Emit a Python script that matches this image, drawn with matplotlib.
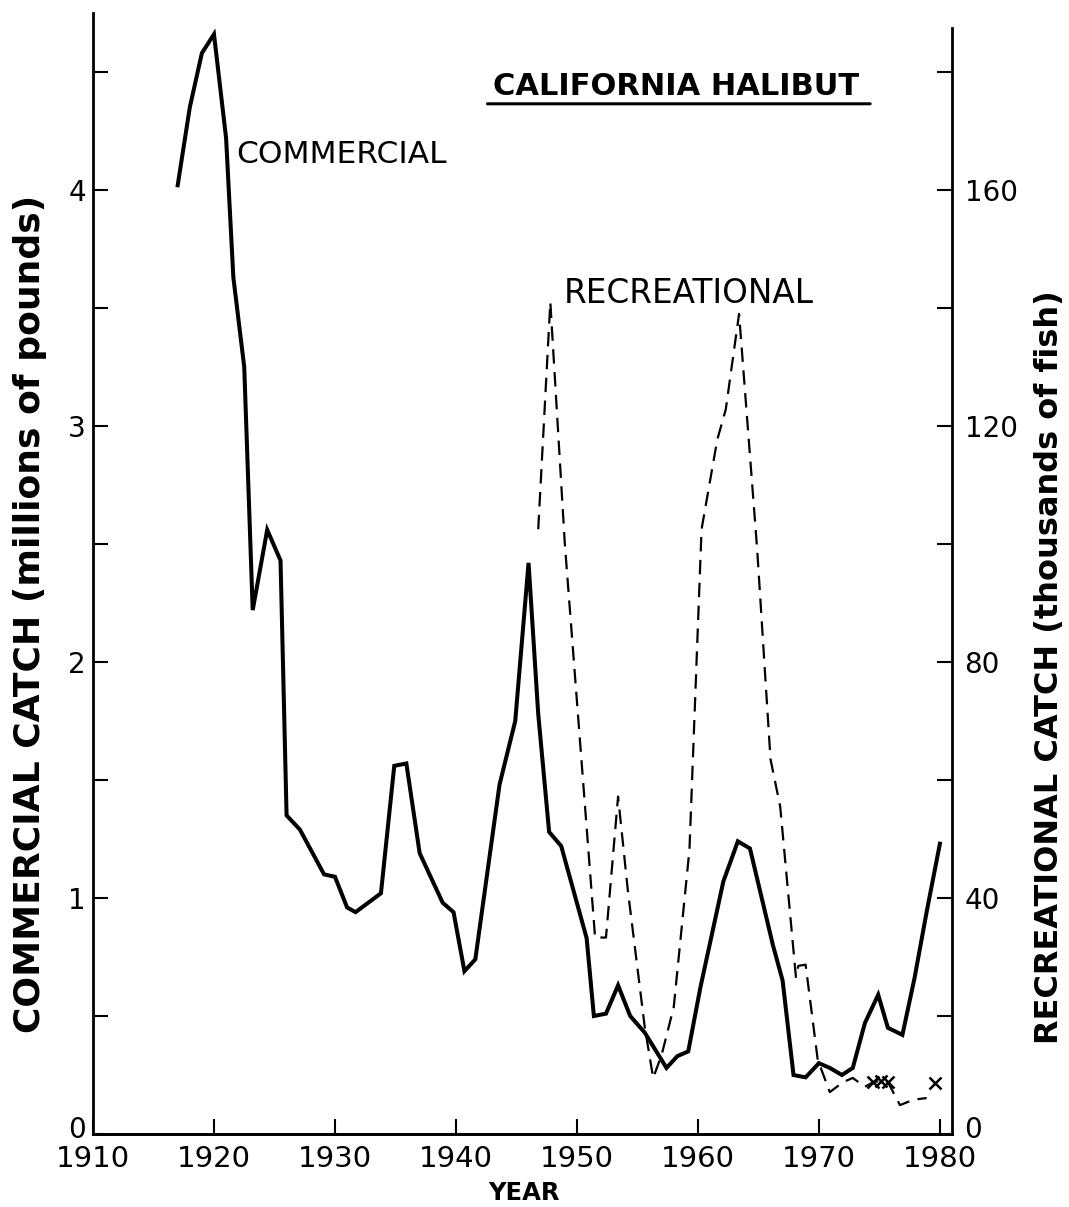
import numpy as np
import matplotlib
matplotlib.use("Agg")
import matplotlib.pyplot as plt
from matplotlib.transforms import ScaledTranslation

# commercial catch (millions of pounds)
com_year = [1917.0, 1918.0, 1919.0, 1920.0, 1921.0, 1921.6, 1922.5, 1923.2, 1924.4, 1925.5,
            1926.0, 1927.1, 1929.1, 1930.0, 1931.0, 1931.7, 1933.8, 1934.9, 1935.9, 1937.0,
            1938.9, 1939.8, 1940.7, 1941.6, 1943.6, 1944.9, 1946.0, 1946.8, 1947.7, 1948.7,
            1950.8, 1951.4, 1952.4, 1953.4, 1954.4, 1955.6, 1957.4, 1958.3, 1959.2, 1960.2,
            1962.1, 1963.3, 1964.3, 1966.2, 1967.0, 1967.9, 1968.9, 1970.0, 1970.9, 1971.9,
            1972.8, 1973.8, 1974.9, 1975.7, 1976.9, 1977.9, 1978.9, 1980.0]
com_val = [4.02, 4.35, 4.58, 4.66, 4.22, 3.63, 3.25, 2.22, 2.56, 2.43,
           1.35, 1.29, 1.10, 1.09, 0.96, 0.94, 1.02, 1.56, 1.57, 1.19,
           0.98, 0.94, 0.69, 0.74, 1.48, 1.75, 2.42, 1.78, 1.28, 1.22,
           0.83, 0.50, 0.51, 0.63, 0.50, 0.43, 0.28, 0.33, 0.35, 0.62,
           1.07, 1.24, 1.21, 0.80, 0.65, 0.25, 0.24, 0.30, 0.28, 0.25,
           0.28, 0.47, 0.59, 0.45, 0.42, 0.66, 0.94, 1.23]

# recreational catch (thousands of fish)
rec_year = [1946.8, 1947.8, 1949.0, 1951.5, 1952.4, 1953.4, 1954.2, 1955.6, 1956.3, 1957.0,
            1958.0, 1959.3, 1960.3, 1961.6, 1962.3, 1963.4, 1964.9, 1966.0, 1966.8, 1968.1,
            1968.3, 1968.9, 1969.9, 1970.9, 1972.0, 1972.8, 1973.8, 1974.5, 1975.1, 1975.7,
            1976.7, 1977.8, 1978.9]
rec_val = [102.5, 141.0, 100.0, 33.3, 33.3, 57.2, 41.4, 18.2, 9.5, 13.4,
           21.5, 48.2, 102.5, 117.7, 122.8, 139.0, 99.0, 63.5, 55.5, 26.6,
           28.5, 28.7, 12.6, 7.1, 8.8, 9.5, 8.0, 8.8, 9.0, 8.8,
           4.9, 5.8, 6.1]

# years marked with x on the recreational series
mark_year = [1974.5, 1975.1, 1975.7, 1979.6]
mark_val = [8.8, 9.0, 8.8, 8.7]

x_ticks = [1910, 1920, 1930, 1940, 1950, 1960, 1970, 1980]
left_ticks = [0, 1, 2, 3, 4]
left_minor = [0.5, 1.5, 2.5, 3.5, 4.5]
right_ticks = [0, 40, 80, 120, 160]
right_minor = [20, 60, 100, 140, 180]

fig = plt.figure(figsize=(10.69, 12.07), dpi=100)
ax = fig.add_axes([93/1069, 73/1207, 859/1069, 1121/1207])
ax2 = ax.twinx()

ax.plot(com_year, com_val, color="black", lw=2.9, solid_joinstyle="miter")
ax2.plot(rec_year, rec_val, color="black", lw=1.6, dashes=(6.5, 3.8))
ax2.plot(mark_year, mark_val, ls="none", marker="x", color="black", ms=8, mew=1.8)

ax.set_xlim(1910, 1981)
ax.set_ylim(0, 4.75)
ax2.set_ylim(0, 190)

for a in (ax, ax2):
    a.spines["top"].set_visible(False)
    for s in a.spines.values():
        s.set_linewidth(2.0)
ax.spines["right"].set_visible(False)
ax2.spines["left"].set_visible(False)
ax2.spines["right"].set_bounds(0, 187.5)

ax.set_xticks(x_ticks)
ax.set_yticks(left_ticks)
ax.set_yticks(left_minor, minor=True)
ax2.set_yticks(right_ticks)
ax2.set_yticks(right_minor, minor=True)

ax.tick_params(axis="x", direction="in", length=11, width=1.5, labelsize=21, pad=8)
ax.tick_params(axis="y", which="both", direction="in", length=11, width=1.5, labelsize=20, pad=5)
ax2.tick_params(axis="y", which="both", direction="in", length=11, width=1.5, labelsize=20, pad=9)

# the two "0" labels sit a little above the axis line
nudge = ScaledTranslation(0, 5/72, fig.dpi_scale_trans)
for a in (ax, ax2):
    t0 = a.yaxis.get_major_ticks()[0]
    for lab in (t0.label1, t0.label2):
        lab.set_transform(lab.get_transform() + nudge)

fig.text(0.028, 0.491, "COMMERCIAL CATCH (millions of pounds)", rotation=90,
         ha="center", va="center", fontsize=26, fontweight="bold")
fig.text(0.982, 0.447, "RECREATIONAL CATCH (thousands of fish)", rotation=90,
         ha="center", va="center", fontsize=23, fontweight="bold")
fig.text(0.490, 0.012, "YEAR", ha="center", va="center", fontsize=17.5, fontweight="bold")

ax.text(0.679, 0.934, "CALIFORNIA HALIBUT", transform=ax.transAxes, ha="center",
        va="center", fontsize=22, fontweight="bold")
ax.annotate("", xy=(0.908, 0.919), xytext=(0.456, 0.919), xycoords="axes fraction",
            arrowprops=dict(arrowstyle="-", lw=2.2, color="black"))
ax.text(1921.8, 4.15, "COMMERCIAL", ha="left", va="center", fontsize=22.5)
ax2.text(1948.9, 142.5, "RECREATIONAL", ha="left", va="center", fontsize=23.5)

fig.savefig("out.png", dpi=100)
